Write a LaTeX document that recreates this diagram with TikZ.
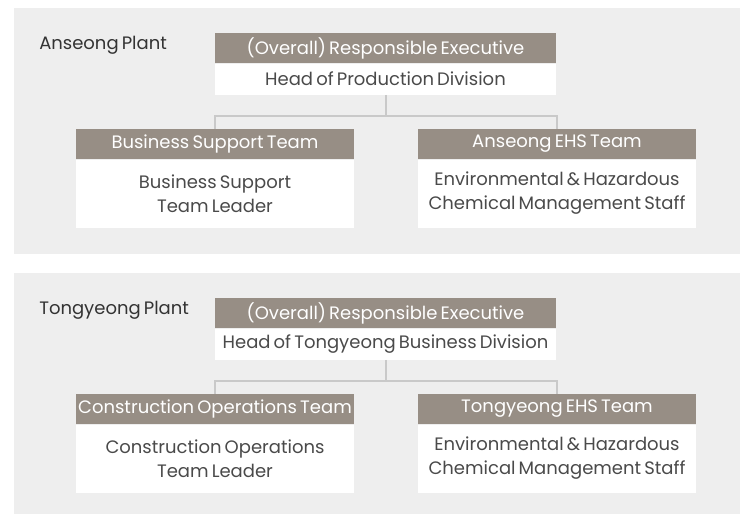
\documentclass[tikz,border=0pt]{standalone}
\usepackage{fontspec}
\setmainfont{Poppins}[WordSpace=0.65]
\usepackage{xcolor}
\usetikzlibrary{positioning}

\definecolor{panelgray}{HTML}{EEEEEE}
\definecolor{hdrgray}{HTML}{978E85}
\definecolor{linegray}{HTML}{C9C9C9}
\definecolor{bodytext}{HTML}{4A4A4A}
\definecolor{plantext}{HTML}{333333}

\begin{document}
\begin{tikzpicture}[
    x=0.75pt, y=-0.75pt,
    panel/.style={fill=panelgray, draw=none},
    plantlabel/.style={anchor=west, inner sep=0pt, text=plantext, font=\fontsize{13.5}{15}\selectfont},
    header/.style={rectangle, fill=hdrgray, text=white, inner sep=0pt, minimum height=30*0.75pt, font=\fontsize{13.5}{15}\selectfont},
    topbody/.style={rectangle, fill=white, text=bodytext, inner sep=0pt, minimum width=341*0.75pt, minimum height=31*0.75pt, font=\fontsize{13.5}{15}\selectfont},
    teambody/.style={rectangle, fill=white, text=bodytext, inner sep=0pt, minimum width=278*0.75pt, minimum height=68*0.75pt, align=center, font=\fontsize{13.5}{18}\selectfont},
    conn/.style={draw=linegray, line width=1.5pt}
]
\useasboundingbox (0,0) rectangle (740,514);

% Anseong
\fill[panel] (14,8) rectangle (740,254);
\node [plantlabel] (anlabel) at (39,45) {Anseong Plant};
\node [header, minimum width=341*0.75pt] (antop) at (385.5,48) {(Overall) Responsible Executive};
\node [topbody, below=0pt of antop] (antopb) {Head of Production Division};
\node [header, minimum width=278*0.75pt] (anbiz) at (215,144) {Business Support Team};
\node [teambody, below=0pt of anbiz] (anbizb) {Business Support\\Team Leader};
\node [header, minimum width=278*0.75pt] (anehs) at (557,144) {Anseong EHS Team};
\node [teambody, below=0pt of anehs] (anehsb) {Environmental \& Hazardous\\Chemical Management Staff};

\draw [conn] (antopb.south) -- ++(0,21) coordinate (anjoin);
\draw [conn] (anjoin) -| (anbiz.north);
\draw [conn] (anjoin) -| (anehs.north);

% Tongyeong
\fill[panel] (14,273) rectangle (740,514);
\node [plantlabel] (tylabel) at (39,310) {Tongyeong Plant};
\node [header, minimum width=341*0.75pt] (tytop) at (385.5,313) {(Overall) Responsible Executive};
\node [topbody, below=0pt of tytop] (tytopb) {Head of Tongyeong Business Division};
\node [header, minimum width=278*0.75pt] (tycon) at (215,409) {Construction Operations Team};
\node [teambody, below=0pt of tycon] (tyconb) {Construction Operations\\Team Leader};
\node [header, minimum width=278*0.75pt] (tyehs) at (557,409) {Tongyeong EHS Team};
\node [teambody, below=0pt of tyehs] (tyehsb) {Environmental \& Hazardous\\Chemical Management Staff};

\draw [conn] (tytopb.south) -- ++(0,21) coordinate (tyjoin);
\draw [conn] (tyjoin) -| (tycon.north);
\draw [conn] (tyjoin) -| (tyehs.north);

\end{tikzpicture}
\end{document}
